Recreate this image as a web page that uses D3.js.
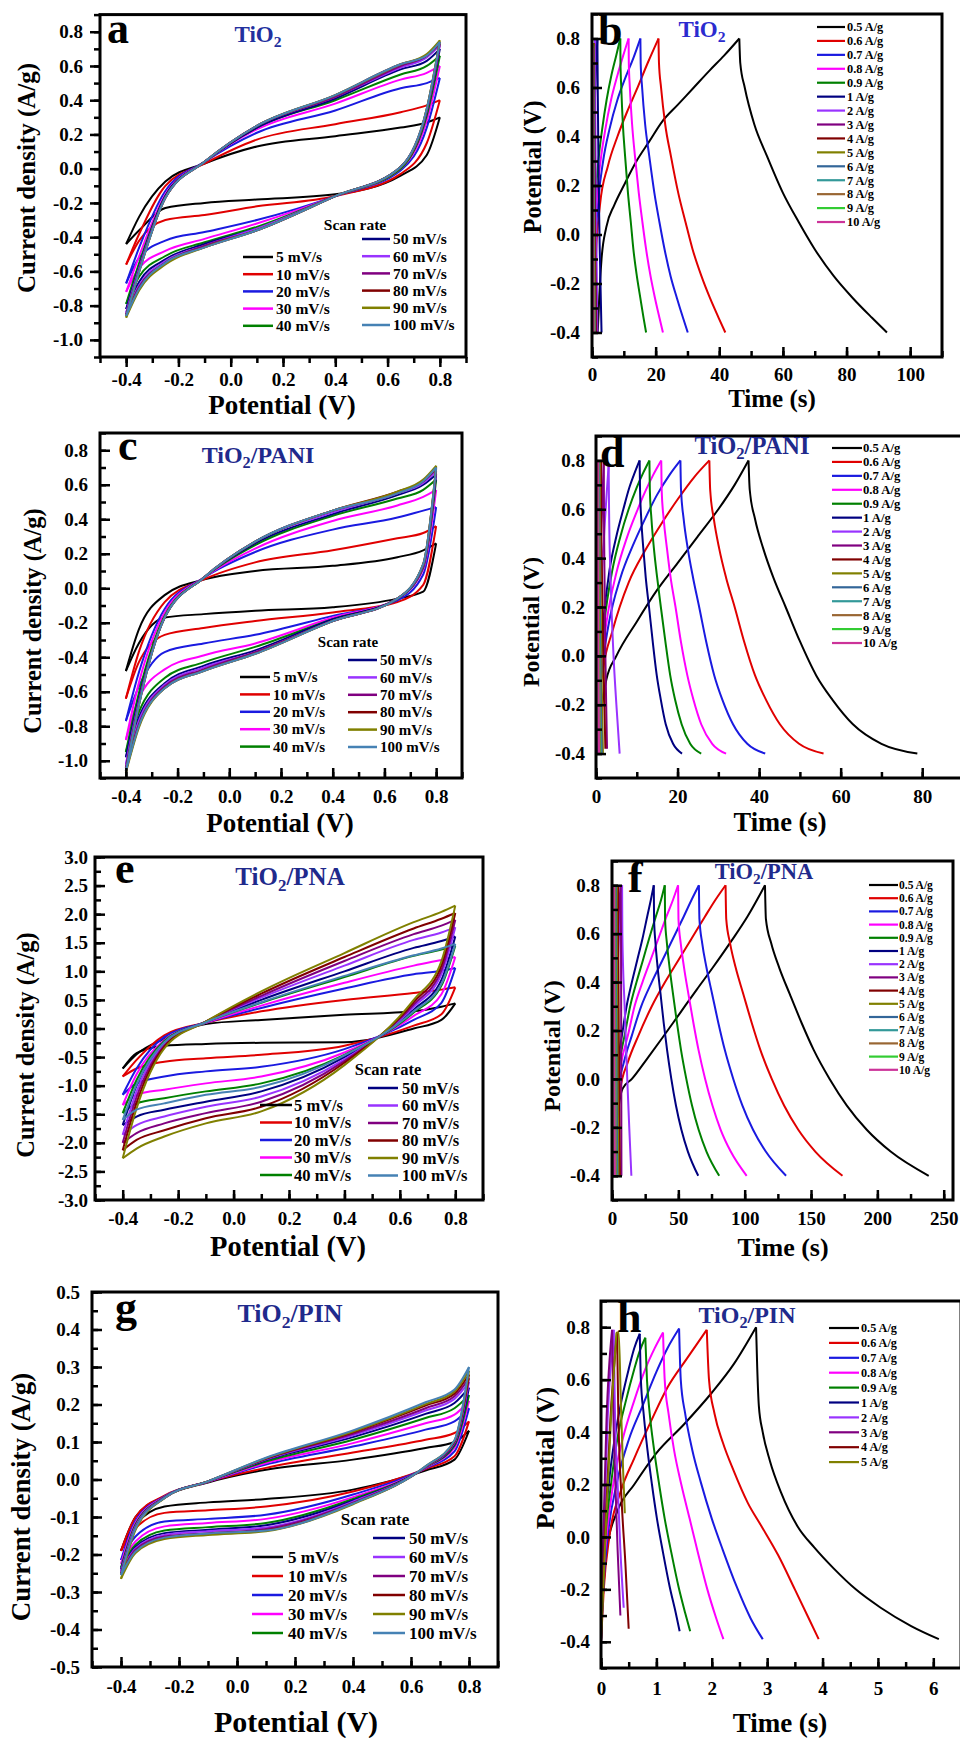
<!DOCTYPE html>
<html>
<head>
<meta charset="utf-8">
<script src="https://cdn.jsdelivr.net/npm/d3@7"></script>
<style>
  body { margin: 0; background: #fff; }
  svg { display: block; }
  text { font-family: "Liberation Serif", "Times New Roman", serif; font-weight: bold; }
</style>
</head>
<body>
<svg id="fig" width="960" height="1738"></svg>
<script>
// ---------- CV data (current density at each potential of cvGrid) ----------
var cvRates = ["5 mV/s", "10 mV/s", "20 mV/s", "30 mV/s", "40 mV/s", "50 mV/s",
               "60 mV/s", "70 mV/s", "80 mV/s", "90 mV/s", "100 mV/s"];
var cvGrid = [-0.4, -0.35, -0.25, -0.1, 0.1, 0.4, 0.65, 0.75, 0.8];

// TiO2
var aUp = [
  [-0.44,-0.28,-0.075,0.03,0.13,0.19,0.24,0.27,0.30],
  [-0.56,-0.38,-0.10,0.03,0.17,0.26,0.33,0.37,0.40],
  [-0.67,-0.46,-0.13,0.04,0.21,0.34,0.47,0.50,0.53],
  [-0.72,-0.51,-0.15,0.04,0.23,0.38,0.52,0.56,0.60],
  [-0.79,-0.55,-0.16,0.04,0.24,0.40,0.55,0.60,0.66],
  [-0.82,-0.57,-0.16,0.04,0.24,0.41,0.58,0.63,0.70],
  [-0.84,-0.58,-0.17,0.04,0.25,0.42,0.59,0.65,0.72],
  [-0.85,-0.59,-0.17,0.04,0.25,0.42,0.60,0.66,0.73],
  [-0.86,-0.60,-0.17,0.04,0.25,0.43,0.61,0.66,0.74],
  [-0.87,-0.60,-0.17,0.04,0.25,0.43,0.61,0.67,0.75],
  [-0.86,-0.60,-0.17,0.04,0.25,0.43,0.61,0.66,0.74]
];
var aLo = [
  [-0.44,-0.36,-0.23,-0.20,-0.18,-0.15,-0.04,0.08,0.30],
  [-0.56,-0.42,-0.30,-0.27,-0.22,-0.16,-0.03,0.15,0.40],
  [-0.67,-0.52,-0.42,-0.37,-0.30,-0.16,-0.01,0.24,0.53],
  [-0.72,-0.58,-0.48,-0.41,-0.32,-0.16,0.00,0.28,0.60],
  [-0.79,-0.63,-0.51,-0.43,-0.34,-0.16,0.00,0.31,0.66],
  [-0.82,-0.66,-0.53,-0.44,-0.35,-0.16,0.01,0.33,0.70],
  [-0.84,-0.68,-0.54,-0.45,-0.35,-0.16,0.01,0.34,0.72],
  [-0.85,-0.69,-0.55,-0.45,-0.36,-0.16,0.01,0.34,0.73],
  [-0.86,-0.70,-0.55,-0.46,-0.36,-0.16,0.01,0.35,0.74],
  [-0.87,-0.71,-0.56,-0.46,-0.36,-0.16,0.01,0.35,0.75],
  [-0.86,-0.70,-0.55,-0.46,-0.36,-0.16,0.01,0.35,0.74]
];
// TiO2/PANI
var cUp = [
  [-0.48,-0.24,-0.04,0.05,0.10,0.13,0.18,0.22,0.26],
  [-0.64,-0.37,-0.08,0.05,0.15,0.22,0.29,0.32,0.36],
  [-0.77,-0.49,-0.12,0.06,0.21,0.34,0.41,0.45,0.47],
  [-0.88,-0.55,-0.14,0.06,0.23,0.39,0.48,0.53,0.57],
  [-0.95,-0.61,-0.16,0.06,0.25,0.42,0.52,0.57,0.63],
  [-0.98,-0.64,-0.17,0.06,0.26,0.43,0.54,0.60,0.66],
  [-1.02,-0.66,-0.17,0.06,0.27,0.44,0.55,0.61,0.68],
  [-1.04,-0.67,-0.17,0.06,0.27,0.45,0.55,0.62,0.69],
  [-1.06,-0.68,-0.17,0.06,0.27,0.45,0.56,0.62,0.70],
  [-1.07,-0.68,-0.17,0.06,0.27,0.45,0.56,0.63,0.71],
  [-1.06,-0.68,-0.17,0.06,0.27,0.45,0.55,0.62,0.70]
];
var cLo = [
  [-0.48,-0.32,-0.17,-0.15,-0.13,-0.11,-0.06,-0.02,0.26],
  [-0.64,-0.43,-0.27,-0.23,-0.19,-0.14,-0.08,0.02,0.36],
  [-0.77,-0.57,-0.37,-0.32,-0.27,-0.16,-0.07,0.08,0.47],
  [-0.88,-0.64,-0.47,-0.39,-0.32,-0.17,-0.06,0.11,0.57],
  [-0.95,-0.72,-0.52,-0.43,-0.34,-0.18,-0.06,0.12,0.63],
  [-0.98,-0.75,-0.55,-0.45,-0.36,-0.18,-0.06,0.13,0.66],
  [-1.02,-0.77,-0.56,-0.46,-0.37,-0.19,-0.06,0.13,0.68],
  [-1.04,-0.79,-0.57,-0.47,-0.37,-0.19,-0.06,0.13,0.69],
  [-1.06,-0.80,-0.58,-0.48,-0.38,-0.19,-0.06,0.14,0.70],
  [-1.07,-0.81,-0.58,-0.48,-0.38,-0.19,-0.06,0.14,0.71],
  [-1.06,-0.80,-0.58,-0.48,-0.38,-0.19,-0.06,0.14,0.70]
];
// TiO2/PNA
var eUp = [
  [-0.70,-0.45,-0.18,0.08,0.15,0.24,0.30,0.38,0.44],
  [-0.84,-0.55,-0.12,0.10,0.30,0.50,0.62,0.68,0.72],
  [-1.16,-0.70,-0.15,0.10,0.36,0.70,0.95,1.01,1.06],
  [-1.34,-0.80,-0.20,0.10,0.40,0.80,1.10,1.20,1.25],
  [-1.48,-0.90,-0.22,0.11,0.45,0.90,1.27,1.38,1.45],
  [-1.69,-1.00,-0.25,0.12,0.50,1.00,1.41,1.53,1.61],
  [-1.86,-1.10,-0.27,0.12,0.54,1.10,1.55,1.68,1.77],
  [-2.00,-1.20,-0.30,0.12,0.57,1.18,1.65,1.80,1.90],
  [-2.13,-1.30,-0.32,0.12,0.61,1.25,1.75,1.92,2.02],
  [-2.27,-1.40,-0.35,0.12,0.65,1.32,1.86,2.04,2.15],
  [-1.60,-0.98,-0.24,0.11,0.46,0.92,1.28,1.40,1.48]
];
var eLo = [
  [-0.70,-0.43,-0.30,-0.27,-0.25,-0.24,0.00,0.15,0.44],
  [-0.84,-0.70,-0.58,-0.52,-0.46,-0.30,0.05,0.25,0.72],
  [-1.16,-0.96,-0.84,-0.75,-0.67,-0.36,0.15,0.45,1.06],
  [-1.34,-1.16,-1.07,-0.96,-0.84,-0.42,0.22,0.60,1.25],
  [-1.48,-1.31,-1.22,-1.10,-0.96,-0.46,0.28,0.75,1.45],
  [-1.69,-1.54,-1.42,-1.28,-1.10,-0.50,0.33,0.85,1.61],
  [-1.86,-1.69,-1.54,-1.37,-1.19,-0.54,0.38,0.95,1.77],
  [-2.00,-1.83,-1.66,-1.48,-1.28,-0.57,0.42,1.02,1.90],
  [-2.13,-1.95,-1.78,-1.57,-1.37,-0.60,0.46,1.10,2.02],
  [-2.27,-2.10,-1.89,-1.66,-1.45,-0.64,0.50,1.18,2.15],
  [-1.60,-1.42,-1.31,-1.16,-1.02,-0.47,0.30,0.78,1.48]
];
// TiO2/PIN
var gUp = [
  [-0.19,-0.10,-0.045,-0.008,0.026,0.053,0.084,0.100,0.13],
  [-0.19,-0.10,-0.043,-0.006,0.031,0.072,0.106,0.124,0.155],
  [-0.215,-0.11,-0.045,-0.006,0.040,0.088,0.133,0.155,0.19],
  [-0.225,-0.115,-0.046,-0.006,0.044,0.097,0.150,0.173,0.21],
  [-0.235,-0.12,-0.047,-0.005,0.048,0.106,0.164,0.190,0.225],
  [-0.24,-0.125,-0.048,-0.005,0.052,0.113,0.175,0.204,0.245],
  [-0.245,-0.125,-0.048,-0.005,0.054,0.118,0.184,0.215,0.26],
  [-0.25,-0.13,-0.049,-0.005,0.055,0.122,0.190,0.222,0.27],
  [-0.255,-0.13,-0.049,-0.005,0.056,0.126,0.197,0.229,0.28],
  [-0.265,-0.135,-0.05,-0.005,0.057,0.128,0.201,0.235,0.29],
  [-0.255,-0.13,-0.049,-0.005,0.058,0.131,0.206,0.240,0.30]
];
var gLo = [
  [-0.19,-0.12,-0.072,-0.061,-0.052,-0.027,0.024,0.053,0.13],
  [-0.19,-0.13,-0.089,-0.082,-0.072,-0.032,0.028,0.062,0.155],
  [-0.215,-0.152,-0.112,-0.105,-0.094,-0.040,0.030,0.075,0.19],
  [-0.225,-0.165,-0.125,-0.116,-0.105,-0.047,0.031,0.085,0.21],
  [-0.235,-0.174,-0.136,-0.127,-0.116,-0.052,0.032,0.090,0.225],
  [-0.24,-0.18,-0.143,-0.134,-0.122,-0.056,0.033,0.095,0.245],
  [-0.245,-0.184,-0.148,-0.138,-0.128,-0.059,0.033,0.098,0.26],
  [-0.25,-0.187,-0.152,-0.143,-0.132,-0.062,0.034,0.100,0.27],
  [-0.255,-0.192,-0.156,-0.145,-0.136,-0.064,0.034,0.102,0.28],
  [-0.265,-0.196,-0.159,-0.148,-0.138,-0.066,0.035,0.104,0.29],
  [-0.255,-0.192,-0.155,-0.144,-0.136,-0.064,0.035,0.105,0.30]
];

// ---------- GCD data (time s, potential V) ----------
var gcdRates = ["0.5 A/g", "0.6 A/g", "0.7 A/g", "0.8 A/g", "0.9 A/g", "1 A/g", "2 A/g",
                "3 A/g", "4 A/g", "5 A/g", "6 A/g", "7 A/g", "8 A/g", "9 A/g", "10 A/g"];

var bT = [
  [1.8,2.3,3,4.5,7,10,14,18,22,27,32,37,41.5,46.3,46.6,48,51,55,60,65,70,76,82,88,92.7],
  [0.6,1.2,2.5,5,8,11,14,17.5,20.9,21.05,21.7,23.0,24.8,27.1,29.4,31.6,34.4,37.1,39.8,41.9],
  [0.4,0.9,2,3.5,5.5,8,10.5,13,15.2,15.3,15.75,16.7,18.0,19.6,21.2,22.8,24.7,26.7,28.6,30.1],
  [0.3,0.7,1.5,2.7,4.2,6,8,9.8,11.5,11.57,11.9,12.6,13.5,14.7,15.85,17.0,18.4,19.8,21.2,22.3],
  [0.2,0.5,1.1,2,3.2,4.6,6.1,7.6,8.9,8.95,9.2,9.7,10.4,11.3,12.2,13.0,14.1,15.2,16.2,17.0],
  [0.1,0.6,1.2,1.7,1.8,2.1,2.5,3.0],
  [0.05,0.35,0.7,0.95,1.0,1.2,1.45,1.7],
  [0.05,0.25,0.5,0.7,0.75,0.9,1.1,1.4],
  [0,0.2,0.4,0.55,0.6,0.72,0.9,1.15],
  [0,0.15,0.32,0.45,0.5,0.6,0.75,0.95],
  [0,0.12,0.27,0.38,0.42,0.5,0.63,0.8],
  [0,0.1,0.23,0.33,0.37,0.44,0.55,0.7],
  [0,0.09,0.2,0.29,0.32,0.39,0.48,0.62],
  [0,0.08,0.18,0.26,0.29,0.35,0.43,0.55],
  [0,0.07,0.16,0.23,0.26,0.31,0.38,0.5]
];
var bV = [
  [-0.4,-0.25,-0.1,0.03,0.12,0.2,0.3,0.38,0.46,0.53,0.6,0.67,0.73,0.8,0.7,0.6,0.45,0.32,0.17,0.05,-0.06,-0.17,-0.26,-0.34,-0.4],
  [-0.4,-0.1,0.12,0.28,0.4,0.5,0.59,0.7,0.8,0.7,0.6,0.45,0.32,0.17,0.05,-0.06,-0.17,-0.26,-0.34,-0.4],
  [-0.4,-0.1,0.14,0.3,0.43,0.55,0.64,0.72,0.8,0.7,0.6,0.45,0.32,0.17,0.05,-0.06,-0.17,-0.26,-0.34,-0.4],
  [-0.4,-0.1,0.14,0.3,0.43,0.55,0.65,0.73,0.8,0.7,0.6,0.45,0.32,0.17,0.05,-0.06,-0.17,-0.26,-0.34,-0.4],
  [-0.4,-0.1,0.14,0.3,0.43,0.55,0.65,0.73,0.8,0.7,0.6,0.45,0.32,0.17,0.05,-0.06,-0.17,-0.26,-0.34,-0.4],
  [-0.4,0.35,0.65,0.8,0.6,0.2,-0.1,-0.4],
  [-0.4,0.35,0.65,0.8,0.6,0.2,-0.1,-0.4],
  [-0.4,0.35,0.65,0.78,0.6,0.2,-0.1,-0.4],
  [-0.4,0.35,0.65,0.78,0.6,0.2,-0.1,-0.4],
  [-0.4,0.35,0.65,0.78,0.6,0.2,-0.1,-0.4],
  [-0.4,0.35,0.65,0.77,0.6,0.2,-0.1,-0.4],
  [-0.4,0.35,0.65,0.77,0.6,0.2,-0.1,-0.4],
  [-0.4,0.35,0.65,0.77,0.6,0.2,-0.1,-0.4],
  [-0.4,0.35,0.62,0.76,0.6,0.2,-0.1,-0.4],
  [-0.4,0.35,0.62,0.76,0.6,0.2,-0.1,-0.4]
];

var dT = [
  [0.5,1.2,2.5,5,10,15,20,25,30,34,37.4,37.7,39,41,43.5,46.5,50,54,58,63,70,78.8],
  [0.3,0.8,1.8,4,8,12,16,20,24,27.8,28.0,28.9,30.2,31.9,34.0,36.3,39.0,41.7,45.1,49.8,55.8],
  [0.3,0.7,1.5,3,6,9,12,15,18,20.7,20.85,21.5,22.5,23.8,25.3,27.0,29.0,31.0,33.6,37.1,41.5],
  [0.2,0.5,1.2,2.5,5,7.5,10,12,14,16,16.1,16.6,17.4,18.3,19.5,20.8,22.4,23.9,25.8,28.5,31.9],
  [0.2,0.4,1,2,4,6,8,10,11.6,13.1,13.2,13.6,14.2,15.0,15.9,17.0,18.2,19.4,21.0,23.1,25.8],
  [0.15,0.35,0.8,1.7,3.3,5,6.7,8.2,9.5,10.7,10.8,11.1,11.6,12.2,13.0,13.9,14.9,15.9,17.1,18.9,21.1],
  [0.1,0.8,2,3.1,3.2,3.6,4.3,5.0,5.8],
  [0.05,0.5,1.3,1.9,1.95,2.1,2.3,2.5,2.7],
  [0.05,0.35,0.8,1.2,1.25,1.5,1.8,2.05,2.3],
  [0,0.25,0.6,0.9,0.95,1.1,1.3,1.5,1.7],
  [0,0.2,0.5,0.75,0.8,0.9,1.05,1.2,1.4],
  [0,0.17,0.42,0.62,0.66,0.75,0.88,1.0,1.15],
  [0,0.15,0.36,0.54,0.58,0.66,0.77,0.88,1.0],
  [0,0.13,0.3,0.45,0.48,0.55,0.65,0.75,0.85],
  [0,0.11,0.27,0.4,0.43,0.49,0.57,0.66,0.75]
];
var dV = [
  [-0.4,-0.25,-0.1,0,0.14,0.27,0.38,0.49,0.6,0.7,0.8,0.68,0.56,0.44,0.32,0.2,0.06,-0.08,-0.18,-0.28,-0.36,-0.4],
  [-0.4,-0.2,-0.05,0.1,0.3,0.43,0.54,0.64,0.73,0.8,0.68,0.56,0.44,0.32,0.2,0.06,-0.08,-0.18,-0.28,-0.36,-0.4],
  [-0.4,-0.2,-0.05,0.12,0.32,0.45,0.56,0.66,0.74,0.8,0.68,0.56,0.44,0.32,0.2,0.06,-0.08,-0.18,-0.28,-0.36,-0.4],
  [-0.4,-0.2,-0.05,0.13,0.34,0.48,0.59,0.67,0.74,0.8,0.68,0.56,0.44,0.32,0.2,0.06,-0.08,-0.18,-0.28,-0.36,-0.4],
  [-0.4,-0.2,-0.05,0.13,0.35,0.49,0.6,0.69,0.75,0.8,0.68,0.56,0.44,0.32,0.2,0.06,-0.08,-0.18,-0.28,-0.36,-0.4],
  [-0.4,-0.2,-0.05,0.13,0.35,0.49,0.6,0.69,0.75,0.8,0.68,0.56,0.44,0.32,0.2,0.06,-0.08,-0.18,-0.28,-0.36,-0.4],
  [-0.4,0.1,0.5,0.78,0.6,0.3,0,-0.2,-0.4],
  [-0.4,0.1,0.5,0.8,0.6,0.3,0,-0.2,-0.38],
  [-0.4,0.1,0.5,0.8,0.6,0.3,0,-0.2,-0.38],
  [-0.4,0.1,0.5,0.8,0.6,0.3,0,-0.2,-0.4],
  [-0.4,0.1,0.5,0.8,0.6,0.3,0,-0.2,-0.4],
  [-0.4,0.1,0.5,0.8,0.6,0.3,0,-0.2,-0.4],
  [-0.4,0.1,0.5,0.8,0.6,0.3,0,-0.2,-0.4],
  [-0.4,0.1,0.45,0.68,0.5,0.25,0,-0.2,-0.4],
  [-0.4,0.1,0.5,0.8,0.6,0.3,0,-0.2,-0.4]
];

var fT = [
  [1.5,3,5,8,15,26,38,51,64,76,90,102,115.3,116,120,126,134,143,152,164,177,192,210,238.7],
  [1,3,6,12,20,30,40,50,60,70,78,85.6,86.1,89.0,93.2,99.0,105.4,111.8,120.4,129.7,140.4,153.2,173.7],
  [0.8,2.2,4.5,9,15,22,30,38,46,54,60,65.5,65.9,68.0,71.2,75.5,80.2,85.0,91.4,98.3,106.3,115.9,131.2],
  [0.6,1.8,3.5,7,12,17,23,29,35,41,46,49.8,50.1,51.8,54.3,57.6,61.4,65.2,70.2,75.7,81.9,89.5,101.5],
  [0.5,1.4,2.8,5.6,9.5,13.7,18.5,23.3,28,33,37,39.8,40.0,41.4,43.4,46.0,49.0,52.0,56.0,60.3,65.3,71.2,80.8],
  [0.4,1.1,2.2,4.4,7.5,11,15,19,23,26.5,29.3,31.5,31.7,32.8,34.4,36.6,39.0,41.5,44.7,48.2,52.3,57.2,65.0],
  [0.3,2,4.5,7.6,7.8,9.5,11.5,13,14.6],
  [0.2,1.5,3.5,6.5,6.8,6.9,7.0,7.05,7.1],
  [0.1,1,2.5,4.5,4.7,5.0,5.3,5.6,6.0],
  [0.1,0.8,2,3.5,3.6,3.9,4.2,4.5,4.8],
  [0,0.6,1.6,2.8,2.9,3.1,3.4,3.7,4.0],
  [0,0.5,1.3,2.3,2.4,2.6,2.85,3.1,3.4],
  [0,0.4,1.1,1.9,2.0,2.2,2.4,2.6,2.9],
  [0,0.35,0.9,1.6,1.7,1.85,2.05,2.25,2.5],
  [0,0.3,0.8,1.4,1.5,1.6,1.8,2.0,2.2]
];
var fV = [
  [-0.4,-0.25,-0.12,-0.04,0,0.08,0.17,0.27,0.37,0.46,0.57,0.67,0.8,0.66,0.56,0.46,0.35,0.23,0.12,0,-0.11,-0.21,-0.3,-0.4],
  [-0.4,-0.2,-0.05,0.07,0.18,0.3,0.4,0.49,0.58,0.67,0.74,0.8,0.66,0.56,0.46,0.35,0.23,0.12,0,-0.11,-0.21,-0.3,-0.4],
  [-0.4,-0.2,-0.05,0.07,0.18,0.3,0.4,0.49,0.58,0.67,0.74,0.8,0.66,0.56,0.46,0.35,0.23,0.12,0,-0.11,-0.21,-0.3,-0.4],
  [-0.4,-0.2,-0.05,0.07,0.18,0.3,0.4,0.49,0.58,0.67,0.74,0.8,0.66,0.56,0.46,0.35,0.23,0.12,0,-0.11,-0.21,-0.3,-0.4],
  [-0.4,-0.2,-0.05,0.07,0.18,0.3,0.4,0.49,0.58,0.67,0.74,0.8,0.66,0.56,0.46,0.35,0.23,0.12,0,-0.11,-0.21,-0.3,-0.4],
  [-0.4,-0.2,-0.05,0.07,0.18,0.3,0.4,0.49,0.58,0.67,0.74,0.8,0.66,0.56,0.46,0.35,0.23,0.12,0,-0.11,-0.21,-0.3,-0.4],
  [-0.4,0.1,0.5,0.8,0.6,0.3,0,-0.2,-0.4],
  [-0.4,0.1,0.5,0.8,0.6,0.3,0,-0.2,-0.4],
  [-0.4,0.1,0.5,0.8,0.6,0.3,0,-0.2,-0.4],
  [-0.4,0.1,0.5,0.8,0.6,0.3,0,-0.2,-0.4],
  [-0.4,0.1,0.5,0.8,0.6,0.3,0,-0.2,-0.4],
  [-0.4,0.1,0.5,0.8,0.6,0.3,0,-0.2,-0.4],
  [-0.4,0.1,0.5,0.8,0.6,0.3,0,-0.2,-0.4],
  [-0.4,0.1,0.5,0.8,0.6,0.3,0,-0.2,-0.4],
  [-0.4,0.1,0.5,0.8,0.6,0.3,0,-0.2,-0.4]
];

var hT = [
  [0,0.1,0.3,0.6,1.0,1.5,2.0,2.4,2.8,2.82,2.85,2.92,3.05,3.25,3.55,3.85,4.2,4.6,5.05,5.6,6.1],
  [0,0.05,0.15,0.35,0.6,0.9,1.2,1.55,1.91,1.95,2.05,2.2,2.4,2.65,2.9,3.2,3.5,3.75,3.93],
  [0,0.04,0.12,0.28,0.5,0.75,1.0,1.2,1.41,1.44,1.52,1.65,1.8,2.0,2.2,2.45,2.7,2.92],
  [0,0.03,0.1,0.22,0.4,0.6,0.8,0.97,1.12,1.15,1.22,1.32,1.45,1.6,1.75,1.92,2.08,2.21],
  [0,0.03,0.08,0.18,0.3,0.45,0.6,0.7,0.8,0.83,0.88,0.96,1.05,1.15,1.27,1.4,1.52,1.61],
  [0,0.02,0.06,0.14,0.25,0.37,0.5,0.6,0.7,0.72,0.77,0.84,0.92,1.01,1.12,1.24,1.35,1.42],
  [0,0.05,0.12,0.23,0.25,0.3,0.35,0.41],
  [0,0.04,0.1,0.2,0.22,0.26,0.3,0.35],
  [0,0.07,0.17,0.29,0.31,0.37,0.44,0.5],
  [0,0.08,0.18,0.28,0.32,0.36,0.4,0.43]
];
var hV = [
  [-0.35,-0.05,0.1,0.2,0.32,0.43,0.55,0.66,0.8,0.65,0.5,0.4,0.29,0.17,0.04,-0.04,-0.12,-0.2,-0.27,-0.34,-0.39],
  [-0.4,-0.2,0,0.17,0.3,0.44,0.57,0.68,0.79,0.6,0.47,0.36,0.25,0.13,0.04,-0.07,-0.2,-0.31,-0.39],
  [-0.4,-0.2,0,0.2,0.37,0.5,0.63,0.72,0.795,0.6,0.47,0.33,0.21,0.07,-0.05,-0.19,-0.31,-0.39],
  [-0.4,-0.2,0,0.2,0.38,0.52,0.64,0.72,0.78,0.6,0.47,0.33,0.2,0.07,-0.06,-0.2,-0.31,-0.39],
  [-0.4,-0.2,0,0.2,0.38,0.52,0.64,0.71,0.76,0.6,0.47,0.33,0.2,0.07,-0.06,-0.19,-0.29,-0.36],
  [-0.4,-0.2,0,0.2,0.38,0.52,0.64,0.72,0.775,0.6,0.47,0.33,0.2,0.07,-0.06,-0.19,-0.29,-0.36],
  [-0.4,0,0.45,0.79,0.5,0.2,-0.05,-0.27],
  [-0.4,0,0.45,0.79,0.5,0.2,-0.05,-0.3],
  [-0.4,0,0.45,0.78,0.5,0.15,-0.1,-0.35],
  [-0.4,0,0.45,0.78,0.78,0.5,0.25,0.09]
];

// ---------- tick values ----------
var cvXTicks = [-0.4, -0.2, 0.0, 0.2, 0.4, 0.6, 0.8];
var acYTicks = [-1.0, -0.8, -0.6, -0.4, -0.2, 0.0, 0.2, 0.4, 0.6, 0.8];
var eYTicks = [-3.0, -2.5, -2.0, -1.5, -1.0, -0.5, 0.0, 0.5, 1.0, 1.5, 2.0, 2.5, 3.0];
var gYTicks = [-0.5, -0.4, -0.3, -0.2, -0.1, 0.0, 0.1, 0.2, 0.3, 0.4, 0.5];
var gcdYTicks = [-0.4, -0.2, 0.0, 0.2, 0.4, 0.6, 0.8];
var bXTicks = [0, 20, 40, 60, 80, 100];
var dXTicks = [0, 20, 40, 60, 80];
var fXTicks = [0, 50, 100, 150, 200, 250];
var hXTicks = [0, 1, 2, 3, 4, 5, 6];

// ---------- colours ----------
var cvColors = ["#000000", "#e00000", "#1a1ae0", "#ff00ff", "#008000", "#000080",
                "#9933ff", "#800080", "#800000", "#808000", "#4682b4"];
var gcdColors = ["#000000", "#e00000", "#1a1ae0", "#ff00ff", "#008000", "#000080", "#9933ff",
                 "#800080", "#800000", "#808000", "#336699", "#339999", "#996633", "#33cc33", "#cc3399"];

var svg = d3.select("#fig");

// ---------- panel layout ----------
var panels = [
  {type: "cv", up: aUp, lo: aLo, L: 100, T: 14.6, R: 466, B: 357, xDom: [-0.5, 0.9], yDom: [-1.1, 0.9],
   xTicks: cvXTicks, yTicks: acYTicks, xMinor: 0.1, yMinor: 0.1, out: true, yPad: 7, xPad: 5.5,
   letter: "a", lx: 107, ly: 43, title: ["TiO", ""], tx: 258, ty: 42, tfs: 23, tcol: "#22309e",
   xt: "Potential (V)", xtx: 282, xty: 414, xfs: 27, yt: "Current density (A/g)", ytx: 26, yty: 178, yfs: 25,
   leg: {hx: 355, hy: 225, c1: [243, 273, 276, 257], c2: [362, 390, 393, 239], dy: 17.2, fs: 15.5}},
  {type: "gcd", T_: bT, V_: bV, L: 592, T: 14, R: 942, B: 357, xDom: [0, 110], yDom: [-0.5, 0.9],
   xTicks: bXTicks, yTicks: gcdYTicks, xMinor: 10, yMinor: 0.1, out: false, yPad: 12, xPad: 10.5,
   letter: "b", lx: 598, ly: 45, title: ["TiO", ""], tx: 702, ty: 37, tfs: 23, tcol: "#2b2bcf",
   xt: "Time (s)", xtx: 772, xty: 407, xfs: 25, yt: "Potential (V)", ytx: 532, yty: 167, yfs: 24.3,
   leg: {x0: 817, x1: 845, tx: 847, y0: 27, dy: 13.93, fs: 12.3}},
  {type: "cv", up: cUp, lo: cLo, L: 100, T: 433, R: 462, B: 778, xDom: [-0.5, 0.9], yDom: [-1.1, 0.9],
   xTicks: cvXTicks, yTicks: acYTicks, xMinor: 0.1, yMinor: 0.1, out: false, yPad: 12, xPad: 11.5,
   letter: "c", lx: 118, ly: 460, title: ["TiO", "/PANI"], tx: 258, ty: 463, tfs: 24, tcol: "#1f2a8c",
   xt: "Potential (V)", xtx: 280, xty: 832, xfs: 27, yt: "Current density (A/g)", ytx: 32, yty: 621, yfs: 24.5,
   leg: {hx: 348, hy: 642, c1: [240, 270, 273, 677], c2: [348, 377, 380, 660], dy: 17.4, fs: 15}},
  {type: "gcd", T_: dT, V_: dV, L: 596, T: 436, R: 963, B: 778, xDom: [0, 90], yDom: [-0.5, 0.9],
   xTicks: dXTicks, yTicks: gcdYTicks, xMinor: 10, yMinor: 0.1, out: false, yPad: 11, xPad: 11.5,
   letter: "d", lx: 600, ly: 467, title: ["TiO", "/PANI"], tx: 752, ty: 454, tfs: 24.5, tcol: "#1f2a8c",
   xt: "Time (s)", xtx: 780, xty: 831, xfs: 26.5, yt: "Potential (V)", ytx: 531, yty: 622, yfs: 23.8,
   leg: {x0: 832, x1: 862, tx: 863, y0: 448, dy: 13.93, fs: 12.7}},
  {type: "cv", up: eUp, lo: eLo, L: 95, T: 857, R: 483, B: 1200, xDom: [-0.5, 0.9], yDom: [-3, 3],
   xTicks: cvXTicks, yTicks: eYTicks, xMinor: 0.1, yMinor: 0.25, out: false, yPad: 7, xPad: 11.5,
   letter: "e", lx: 115, ly: 883, title: ["TiO", "/PNA"], tx: 290, ty: 885, tfs: 25, tcol: "#1f2a8c",
   xt: "Potential (V)", xtx: 288, xty: 1256, xfs: 28.5, yt: "Current density (A/g)", ytx: 25, yty: 1045, yfs: 24.5,
   leg: {hx: 388, hy: 1069, c1: [260, 292, 294, 1105], c2: [368, 398, 402, 1088], dy: 17.5, fs: 16.5}},
  {type: "gcd", T_: fT, V_: fV, L: 612, T: 861, R: 953, B: 1200, xDom: [0, 257], yDom: [-0.5, 0.9],
   xTicks: fXTicks, yTicks: gcdYTicks, xMinor: 25, yMinor: 0.1, out: false, yPad: 12, xPad: 11.5,
   letter: "f", lx: 628, ly: 892, title: ["TiO", "/PNA"], tx: 764, ty: 879, tfs: 22.5, tcol: "#1f2a8c",
   xt: "Time (s)", xtx: 783, xty: 1256, xfs: 26, yt: "Potential (V)", ytx: 552, yty: 1046, yfs: 24,
   leg: {x0: 869, x1: 898, tx: 899, y0: 885, dy: 13.2, fs: 11.5}},
  {type: "cv", up: gUp, lo: gLo, L: 92, T: 1292, R: 498, B: 1667, xDom: [-0.5, 0.9], yDom: [-0.5, 0.5],
   xTicks: cvXTicks, yTicks: gYTicks, xMinor: 0.1, yMinor: 0.05, out: false, yPad: 12, xPad: 12.5,
   letter: "g", lx: 115, ly: 1322, title: ["TiO", "/PIN"], tx: 290, ty: 1322, tfs: 26, tcol: "#1f2a8c",
   xt: "Potential (V)", xtx: 296, xty: 1732, xfs: 30, yt: "Current density (A/g)", ytx: 21, yty: 1497, yfs: 27,
   leg: {hx: 375, hy: 1519, c1: [252, 283, 288, 1557], c2: [373, 405, 409, 1538], dy: 19, fs: 17}},
  {type: "gcd", T_: hT, V_: hV, L: 601, T: 1301, R: 961, B: 1668, xDom: [0, 6.5], yDom: [-0.5, 0.9],
   xTicks: hXTicks, yTicks: gcdYTicks, xMinor: 0.5, yMinor: 0.1, out: false, yPad: 11, xPad: 13.5,
   letter: "h", lx: 617, ly: 1332, title: ["TiO", "/PIN"], tx: 747, ty: 1323, tfs: 24, tcol: "#1f2a8c",
   xt: "Time (s)", xtx: 780, xty: 1732, xfs: 27, yt: "Potential (V)", ytx: 545, yty: 1458, yfs: 26,
   leg: {x0: 829, x1: 859, tx: 861, y0: 1328, dy: 14.9, fs: 12.2}}
];

function minorValues(dom, step) {
  var start = Math.ceil(dom[0] / step - 1e-6);
  var end = Math.floor(dom[1] / step + 1e-6);
  return d3.range(start, end + 1).map(function(k) { return +(k * step).toFixed(4); });
}

function styleAxis(g, fs) {
  g.select(".domain").remove();
  g.selectAll(".tick line").attr("stroke", "#000").attr("stroke-width", 2.5);
  g.selectAll("text")
    .attr("font-family", "Liberation Serif, Times New Roman, serif")
    .attr("font-weight", "bold")
    .attr("font-size", fs)
    .attr("fill", "#000");
}

function drawPanel(p) {
  var g = svg.append("g");
  var x = d3.scaleLinear().domain(p.xDom).range([p.L, p.R]);
  var y = d3.scaleLinear().domain(p.yDom).range([p.B, p.T]);
  var line = d3.line().x(function(d) { return x(d[0]); }).y(function(d) { return y(d[1]); })
    .curve(d3.curveMonotoneX);

  // curves: each loop / cycle is drawn as two monotone branches
  var curves = g.append("g").attr("fill", "none").attr("stroke-width", 2);
  if (p.type === "cv") {
    p.up.forEach(function(vals, i) {
      var upPts = cvGrid.map(function(v, k) { return [v, vals[k]]; });
      var loPts = cvGrid.map(function(v, k) { return [v, p.lo[i][k]]; });
      curves.append("path").attr("d", line(upPts)).attr("stroke", cvColors[i]);
      curves.append("path").attr("d", line(loPts)).attr("stroke", cvColors[i]);
    });
  } else {
    p.T_.forEach(function(ts, i) {
      var vs = p.V_[i];
      var pk = d3.maxIndex(vs);
      var pts = ts.map(function(t, k) { return [t, vs[k]]; });
      curves.append("path").attr("d", line(pts.slice(0, pk + 1))).attr("stroke", gcdColors[i]);
      curves.append("path").attr("d", line(pts.slice(pk))).attr("stroke", gcdColors[i]);
    });
  }

  // axes
  var dir = p.out ? 1 : -1;
  var fmtX = p.type === "cv" ? function(d) { return d.toFixed(1); } : function(d) { return String(d); };
  var fmtY = function(d) { return d.toFixed(1); };

  var xMinorAx = d3.axisBottom(x).tickValues(minorValues(p.xDom, p.xMinor)).tickSize(6 * dir).tickFormat("");
  var yMinorAx = d3.axisLeft(y).tickValues(minorValues(p.yDom, p.yMinor)).tickSize(6 * dir).tickFormat("");
  styleAxis(g.append("g").attr("transform", "translate(0," + p.B + ")").call(xMinorAx), 19);
  styleAxis(g.append("g").attr("transform", "translate(" + p.L + ",0)").call(yMinorAx), 19);

  var xAx = d3.axisBottom(x).tickValues(p.xTicks).tickSize(10 * dir).tickPadding(p.xPad).tickFormat(fmtX);
  var yAx = d3.axisLeft(y).tickValues(p.yTicks).tickSize(10 * dir).tickPadding(p.yPad).tickFormat(fmtY);
  styleAxis(g.append("g").attr("transform", "translate(0," + p.B + ")").call(xAx), 19);
  styleAxis(g.append("g").attr("transform", "translate(" + p.L + ",0)").call(yAx), 19);

  // frame
  g.append("rect").attr("x", p.L).attr("y", p.T).attr("width", p.R - p.L).attr("height", p.B - p.T)
    .attr("fill", "none").attr("stroke", "#000").attr("stroke-width", 3);

  // axis titles
  g.append("text").attr("x", p.xtx).attr("y", p.xty).attr("text-anchor", "middle")
    .attr("font-size", p.xfs).text(p.xt);
  g.append("text").attr("transform", "translate(" + p.ytx + "," + p.yty + ") rotate(-90)")
    .attr("text-anchor", "middle").attr("dy", "0.35em").attr("font-size", p.yfs).text(p.yt);

  // panel letter and sample name
  g.append("text").attr("x", p.lx).attr("y", p.ly).attr("font-size", 44).text(p.letter);
  var t = g.append("text").attr("x", p.tx).attr("y", p.ty).attr("text-anchor", "middle")
    .attr("font-size", p.tfs).attr("fill", p.tcol);
  t.append("tspan").text(p.title[0]);
  t.append("tspan").attr("font-size", p.tfs * 0.68).attr("dy", p.tfs * 0.22).text("2");
  if (p.title[1]) t.append("tspan").attr("dy", -p.tfs * 0.22).text(p.title[1]);

  // legend
  var lg = g.append("g");
  var L = p.leg;
  if (p.type === "cv") {
    lg.append("text").attr("x", L.hx).attr("y", L.hy).attr("dy", "0.35em").attr("text-anchor", "middle")
      .attr("font-size", L.fs).text("Scan rate");
    cvRates.forEach(function(r, i) {
      var c = i < 5 ? L.c1 : L.c2;
      var row = i < 5 ? i : i - 5;
      var yy = c[3] + row * L.dy;
      lg.append("line").attr("x1", c[0]).attr("x2", c[1]).attr("y1", yy).attr("y2", yy)
        .attr("stroke", cvColors[i]).attr("stroke-width", 2.5);
      lg.append("text").attr("x", c[2]).attr("y", yy).attr("dy", "0.35em").attr("font-size", L.fs).text(r);
    });
  } else {
    p.T_.forEach(function(ts, i) {
      var yy = L.y0 + i * L.dy;
      lg.append("line").attr("x1", L.x0).attr("x2", L.x1).attr("y1", yy).attr("y2", yy)
        .attr("stroke", gcdColors[i]).attr("stroke-width", 2.2);
      lg.append("text").attr("x", L.tx).attr("y", yy).attr("dy", "0.35em").attr("font-size", L.fs)
        .text(gcdRates[i]);
    });
  }
}

panels.forEach(drawPanel);
</script>
</body>
</html>
